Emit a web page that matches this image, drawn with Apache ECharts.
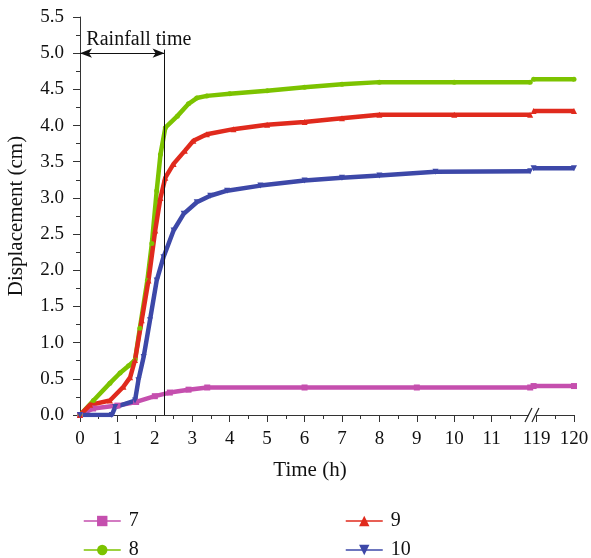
<!DOCTYPE html>
<html>
<head>
<meta charset="utf-8">
<script src="https://cdn.jsdelivr.net/npm/echarts@6/dist/echarts.min.js"></script>
<style>
  html, body { margin: 0; padding: 0; background: #fff; }
  #chart { width: 591px; height: 558px; }
</style>
</head>
<body>
<div id="chart"></div>
<script>
// hours
const t7 = [0, 0.35, 1.0, 1.5, 2.0, 2.4, 2.9, 3.4, 6, 9, 12.03];
const d7 = [0, 0.09, 0.13, 0.18, 0.26, 0.31, 0.35, 0.38, 0.38, 0.38, 0.38];

const t8 = [0, 0.36, 0.8, 1.07, 1.3, 1.47, 1.6, 1.8, 1.92, 2.05, 2.15, 2.28, 2.6, 2.9, 3.12, 3.39, 4, 5, 6, 7, 8, 10, 12.03];
const d8 = [0, 0.2, 0.44, 0.58, 0.68, 0.76, 1.2, 1.86, 2.37, 3.1, 3.6, 3.97, 4.13, 4.3, 4.38, 4.41, 4.44, 4.48, 4.53, 4.57, 4.6, 4.6, 4.6];

const t9 = [0, 0.27, 0.8, 1.16, 1.34, 1.47, 1.65, 1.83, 2.01, 2.15, 2.28, 2.5, 2.8, 3.03, 3.39, 4.1, 5, 6, 7, 8, 10, 12.03];
const d9 = [0, 0.14, 0.2, 0.39, 0.52, 0.76, 1.31, 1.86, 2.55, 3.0, 3.28, 3.47, 3.65, 3.79, 3.88, 3.95, 4.01, 4.05, 4.1, 4.15, 4.15, 4.15];

const t10 = [0, 0.85, 0.94, 1.47, 1.56, 1.7, 1.87, 2.05, 2.23, 2.5, 2.77, 3.12, 3.48, 3.93, 4.82, 6, 7, 8, 9.5, 12.03];
const d10 = [0, 0, 0.11, 0.2, 0.48, 0.8, 1.31, 1.86, 2.18, 2.55, 2.78, 2.94, 3.03, 3.1, 3.17, 3.24, 3.28, 3.31, 3.36, 3.37];

// values after the axis break (119-120 h)
const tailT = [118.92, 120];
const tail7 = [0.4, 0.4];
const tail8 = [4.64, 4.64];
const tail9 = [4.2, 4.2];
const tail10 = [3.41, 3.41];

const xTicks = [0, 1, 2, 3, 4, 5, 6, 7, 8, 9, 10, 11, 119, 120];
const xMinor = [0.5, 1.5, 2.5, 3.5, 4.5, 5.5, 6.5, 7.5, 8.5, 9.5, 10.5, 11.5, 119.5];
const rainEnd = 2.26;

// hours -> position on the broken axis
const pos = (h) => (h <= 12.1 ? h : h - 119 + 12.2);
const unpos = (p) => (p <= 12.1 ? p : Math.round(p - 12.2 + 119));

const FONT = 'Liberation Serif';

function build(t, d, tt, td) {
  const out = t.map((h, i) => [pos(h), d[i]]);
  out.push([12.08, '-']);
  tt.forEach((h, i) => out.push([pos(h), td[i]]));
  return out;
}

const colors = { '7': '#c54fae', '8': '#7cc300', '9': '#e02a1d', '10': '#3d48a8' };

function mkSeries(name, symbol, data, rotate) {
  return {
    name: name,
    type: 'line',
    data: data,
    symbol: symbol,
    symbolSize: symbol === 'circle' ? 5 : 6,
    symbolRotate: rotate || 0,
    showSymbol: true,
    connectNulls: false,
    color: colors[name],
    lineStyle: { width: 4.5 },
    itemStyle: { color: colors[name] },
    emphasis: { disabled: true },
    z: 3,
  };
}

function mkLegend(name, left, top) {
  return {
    data: [name],
    left: left,
    top: top,
    itemWidth: 37,
    itemHeight: 13,
    lineStyle: { width: 1.5 },
    textStyle: { fontFamily: FONT, fontSize: 20, color: '#111', padding: [0, 0, 0, 3] },
  };
}

const chart = echarts.init(document.getElementById('chart'));

const option = {
  animation: false,
  textStyle: { fontFamily: FONT },
  grid: { left: 80, right: 17, top: 17, bottom: 143, outerBoundsMode: 'none' },
  xAxis: [
    {
      type: 'value',
      min: 0,
      max: 13.2,
      name: 'Time (h)',
      nameLocation: 'middle',
      nameGap: 45,
      nameTextStyle: { fontFamily: FONT, fontSize: 21, color: '#111', padding: [0, 34, 0, 0] },
      axisLine: { show: true, lineStyle: { color: '#333', width: 1 } },
      axisTick: { show: true, length: 7, customValues: xTicks.map(pos), lineStyle: { color: '#333' } },
      axisLabel: {
        customValues: xTicks.map(pos),
        formatter: (v) => String(unpos(v)),
        fontFamily: FONT, fontSize: 19, color: '#111', margin: 15,
      },
      splitLine: { show: false },
    },
    {
      type: 'value',
      min: 0,
      max: 13.2,
      position: 'bottom',
      axisLine: { show: false },
      axisTick: { show: true, length: 4, customValues: xMinor.map(pos), lineStyle: { color: '#333' } },
      axisLabel: { show: false },
      splitLine: { show: false },
    },
  ],
  yAxis: {
    type: 'value',
    min: 0,
    max: 5.5,
    interval: 0.5,
    name: 'Displacement (cm)',
    nameLocation: 'middle',
    nameGap: 53,
    nameTextStyle: { fontFamily: FONT, fontSize: 21, color: '#111' },
    axisLine: { show: true, lineStyle: { color: '#333', width: 1 } },
    axisTick: { show: true, length: 7, lineStyle: { color: '#333' } },
    minorTick: { show: true, splitNumber: 2, length: 4, lineStyle: { color: '#333' } },
    axisLabel: { formatter: (v) => v.toFixed(1), fontFamily: FONT, fontSize: 19, color: '#111', margin: 16 },
    splitLine: { show: false },
  },
  legend: [
    mkLegend('7', 78, 506),
    mkLegend('8', 78, 535),
    mkLegend('9', 340, 506),
    mkLegend('10', 340, 535),
  ],
  series: [
    mkSeries('7', 'rect', build(t7, d7, tailT, tail7)),
    mkSeries('8', 'circle', build(t8, d8, tailT, tail8)),
    mkSeries('9', 'triangle', build(t9, d9, tailT, tail9)),
    mkSeries('10', 'triangle', build(t10, d10, tailT, tail10), 180),
    {
      name: 'rain',
      type: 'line',
      data: [],
      silent: true,
      markLine: {
        silent: true,
        animation: false,
        lineStyle: { color: '#111', width: 1, type: 'solid' },
        label: { show: false },
        emphasis: { disabled: true },
        data: [
          [{ coord: [rainEnd, 0], symbol: 'none' }, { coord: [rainEnd, 5.05], symbol: 'none' }],
          [{ coord: [0, 5], symbol: 'arrow', symbolSize: [7, 12] }, { coord: [rainEnd, 5], symbol: 'arrow', symbolSize: [7, 12] }],
        ],
      },
      markPoint: {
        silent: true,
        symbol: 'circle',
        symbolSize: 0,
        label: {
          show: true,
          position: 'right',
          formatter: 'Rainfall time',
          fontFamily: FONT,
          fontSize: 20,
          color: '#111',
          distance: 0,
        },
        data: [{ coord: [0.17, 5.18] }],
      },
    },
  ],
};

chart.setOption(option);

// break marks on the x axis
const bx = chart.convertToPixel({ xAxisIndex: 0 }, 12.05);
const by = chart.convertToPixel({ yAxisIndex: 0 }, 0);
chart.setOption({
  graphic: [
    { type: 'rect', shape: { x: bx - 2, y: by - 4, width: 7, height: 8 }, style: { fill: '#fff' }, z: 10 },
    { type: 'line', shape: { x1: bx - 6, y1: by + 7, x2: bx + 1, y2: by - 7 }, style: { stroke: '#222', lineWidth: 1.2 }, z: 11 },
    { type: 'line', shape: { x1: bx + 1, y1: by + 7, x2: bx + 8, y2: by - 7 }, style: { stroke: '#222', lineWidth: 1.2 }, z: 11 },
  ],
});
</script>
</body>
</html>
